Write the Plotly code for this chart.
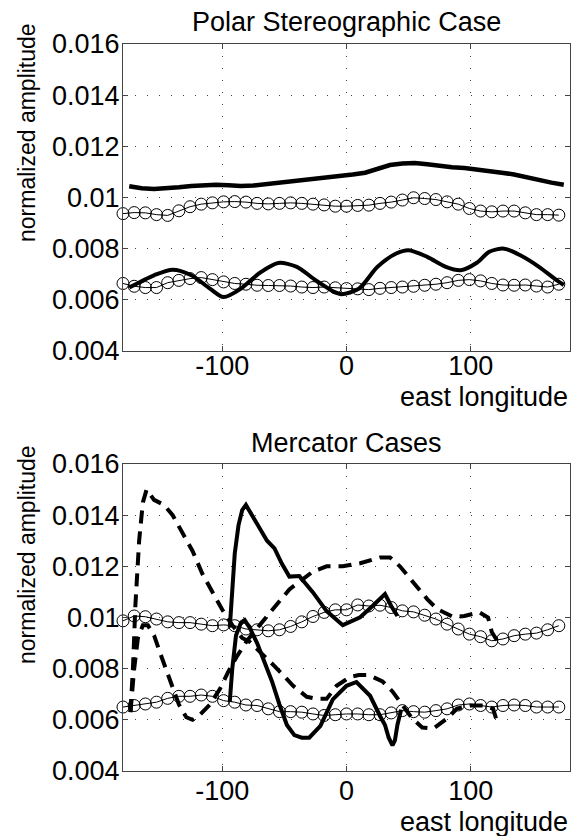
import plotly.graph_objects as go

# ---------------- data ----------------
circ_lon = [-180 + 9 * i for i in range(40)]

# Polar stereographic panel
ps_upper_circ = [0.00937, 0.00941, 0.00940, 0.00933, 0.00930, 0.00948, 0.00964, 0.00974, 0.00979, 0.00983,
                 0.00984, 0.00982, 0.00977, 0.00975, 0.00977, 0.00979, 0.00977, 0.00974, 0.00971, 0.00966,
                 0.00966, 0.00969, 0.00970, 0.00977, 0.00982, 0.00990, 0.00999, 0.00996, 0.00992, 0.00983,
                 0.00974, 0.00957, 0.00947, 0.00944, 0.00947, 0.00947, 0.00940, 0.00933, 0.00933, 0.00931]
ps_lower_circ = [0.00664, 0.00653, 0.00648, 0.00648, 0.00667, 0.00676, 0.00683, 0.00687, 0.00679, 0.00670,
                 0.00664, 0.00661, 0.00657, 0.00656, 0.00656, 0.00654, 0.00650, 0.00648, 0.00650, 0.00647,
                 0.00644, 0.00643, 0.00640, 0.00645, 0.00648, 0.00650, 0.00653, 0.00657, 0.00661, 0.00667,
                 0.00676, 0.00679, 0.00674, 0.00664, 0.00658, 0.00657, 0.00658, 0.00654, 0.00650, 0.00661]

ps_upper_lon = [-175, -165, -155, -145, -135, -125, -115, -105, -95, -85, -75, -65, -55, -45, -35, -25, -15, -5,
                5, 15, 25, 35, 45, 55, 65, 75, 85, 95, 105, 115, 125, 135, 145, 155, 165, 175]
ps_upper_line = [0.01044, 0.01036, 0.01033, 0.01035, 0.01040, 0.01045, 0.01048, 0.01050, 0.01048, 0.01045,
                 0.01047, 0.01052, 0.01060, 0.01066, 0.01070, 0.01075, 0.01080, 0.01085, 0.01090, 0.01097,
                 0.01112, 0.01127, 0.01133, 0.01135, 0.01130, 0.01123, 0.01118, 0.01115, 0.01110, 0.01105,
                 0.01097, 0.01090, 0.01078, 0.01068, 0.01058, 0.01050]

ps_lower_lon = [-175, -155, -140, -125, -110, -99, -85, -70, -55, -40, -25, -10, -4, 10, 25, 40, 50, 65, 80,
                92, 105, 115, 127, 140, 155, 170, 175]
ps_lower_line = [0.00648, 0.00696, 0.00718, 0.00696, 0.00644, 0.00611, 0.00644, 0.00705, 0.00744, 0.00729,
                 0.00677, 0.00631, 0.00622, 0.00644, 0.00729, 0.00781, 0.00794, 0.00768, 0.00729, 0.00716,
                 0.00745, 0.00788, 0.00800, 0.00774, 0.00729, 0.00674, 0.00658]

# Mercator panel
mc_upper_circ = [0.00987, 0.01006, 0.01003, 0.00994, 0.00983, 0.00980, 0.00980, 0.00974, 0.00968, 0.00971,
                 0.00968, 0.00955, 0.00952, 0.00948, 0.00952, 0.00965, 0.00983, 0.01004, 0.01020, 0.01030,
                 0.01030, 0.01049, 0.01045, 0.01048, 0.01039, 0.01026, 0.01022, 0.01009, 0.00994, 0.00974,
                 0.00955, 0.00935, 0.00925, 0.00909, 0.00916, 0.00929, 0.00935, 0.00939, 0.00952, 0.00968]
mc_lower_circ = [0.00650, 0.00656, 0.00662, 0.00669, 0.00684, 0.00692, 0.00692, 0.00697, 0.00692, 0.00675,
                 0.00669, 0.00658, 0.00656, 0.00643, 0.00632, 0.00632, 0.00630, 0.00623, 0.00617, 0.00620,
                 0.00623, 0.00623, 0.00620, 0.00620, 0.00627, 0.00636, 0.00632, 0.00630, 0.00636, 0.00643,
                 0.00658, 0.00662, 0.00656, 0.00650, 0.00656, 0.00658, 0.00656, 0.00650, 0.00650, 0.00650]

mc_dashA_lon = [-174, -172, -170, -167, -164, -161, -155, -147, -140, -132, -124, -116, -108, -100, -92, -84,
                -78, -68, -58, -50, -43, -32, -24, -16, -8, 3, 10, 18, 29, 37, 45, 53, 61, 70, 81, 89, 100,
                110, 118, 121]
mc_dashA = [0.0063, 0.0080, 0.0105, 0.0130, 0.0145, 0.0150, 0.0146, 0.0144, 0.0140, 0.0133, 0.0126, 0.0117,
            0.0110, 0.0103, 0.0097, 0.0092, 0.00905, 0.00860, 0.00810, 0.00770, 0.00733, 0.00690, 0.00682,
            0.00682, 0.00733, 0.00768, 0.00775, 0.00775, 0.00750, 0.00711, 0.00656, 0.00605, 0.00570,
            0.00566, 0.00605, 0.00644, 0.00656, 0.00656, 0.00644, 0.00597]

mc_dashB_lon = [-174, -171, -168, -164, -160, -155, -150, -145, -140, -135, -129, -124, -118, -110, -102, -95,
                -88, -80, -70, -59, -46, -27, -16, -3, 11, 27, 35, 43, 54, 65, 73, 86, 95, 107, 114, 117, 122]
mc_dashB = [0.0063, 0.0080, 0.0092, 0.0097, 0.0097, 0.0093, 0.0086, 0.0079, 0.0072, 0.0066, 0.0061, 0.0060,
            0.0062, 0.0066, 0.0072, 0.0079, 0.0085, 0.0091, 0.0097, 0.01033, 0.0111, 0.01180, 0.01200,
            0.01200, 0.01212, 0.01235, 0.01235, 0.01200, 0.01138, 0.01072, 0.01033, 0.01002, 0.01006,
            0.01020, 0.01000, 0.00943, 0.00904]

mc_solidC_lon = [-94, -92, -90, -87, -84, -81, -76, -70, -64, -58, -52, -46, -38, -27, -16, -3, 11, 21, 31, 36,
                 41]
mc_solidC = [0.0096, 0.0110, 0.0125, 0.0136, 0.0142, 0.0144, 0.0140, 0.0135, 0.0130, 0.0127, 0.0121, 0.0116,
             0.01162, 0.01098, 0.01025, 0.00970, 0.01001, 0.01045, 0.01092, 0.01045, 0.01006]

mc_solidD_lon = [-94, -92, -89, -85, -82, -78, -72, -66, -60, -54, -48, -42, -36, -30, -21, -11, 0, 8, 19, 27,
                 31, 34, 37, 39, 41, 44]
mc_solidD = [0.0067, 0.0080, 0.0093, 0.0098, 0.0099, 0.0096, 0.0090, 0.0083, 0.0075, 0.0066, 0.0058, 0.0054,
             0.0053, 0.0053, 0.00576, 0.0068, 0.00733, 0.00748, 0.00694, 0.00615, 0.0058, 0.0053, 0.0050,
             0.0052, 0.0058, 0.0064]

y_ticks = [0.004, 0.006, 0.008, 0.010, 0.012, 0.014, 0.016]
y_ticktext = ["0.004", "0.006", "0.008", "0.01", "0.012", "0.014", "0.016"]
x_ticks = [-100, 0, 100]
x_ticktext = ["-100", "0", "100"]

titles = ["Polar Stereographic Case", "Mercator Cases"]
x_label = "east longitude"
y_label = "normalized amplitude"

# ---------------- figure ----------------
W, H = 585, 836
FONT = "Liberation Sans, Arial, Helvetica, sans-serif"
fig = go.Figure()

def circ(x, y, ax):
    fig.add_trace(go.Scatter(x=x, y=y, mode="lines+markers", xaxis=ax[0], yaxis=ax[1],
                             line=dict(color="black", width=1),
                             marker=dict(symbol="circle-open", size=12, color="black",
                                         line=dict(width=1, color="black")),
                             cliponaxis=False, showlegend=False))

def thick(x, y, ax, dash="solid", shape="linear", width=4):
    fig.add_trace(go.Scatter(x=x, y=y, mode="lines", xaxis=ax[0], yaxis=ax[1],
                             line=dict(color="black", width=width, dash=dash, shape=shape, smoothing=0.8),
                             showlegend=False))

top = ("x", "y")
bot = ("x2", "y2")
thick(ps_upper_lon, ps_upper_line, top, width=4.5)
thick(ps_lower_lon, ps_lower_line, top, shape="spline")
circ(circ_lon, ps_upper_circ, top)
circ(circ_lon, ps_lower_circ, top)

DASH = "13px,8px"
thick(mc_dashA_lon, mc_dashA, bot, dash=DASH)
thick(mc_dashB_lon, mc_dashB, bot, dash=DASH)
thick(mc_solidC_lon, mc_solidC, bot)
thick(mc_solidD_lon, mc_solidD, bot)
circ(circ_lon, mc_upper_circ, bot)
circ(circ_lon, mc_lower_circ, bot)

def px_x(p):
    return p / W

def px_y(p):
    return 1 - p / H

xdom = [px_x(123), px_x(570)]
ydom_top = [px_y(351), px_y(44)]
ydom_bot = [px_y(771), px_y(464)]

xaxis_common = dict(range=[-180, 180], tickvals=x_ticks, ticktext=x_ticktext, showline=True, mirror="ticks",
                    linecolor="#444", linewidth=1, ticks="inside", ticklen=5, tickcolor="#444",
                    showgrid=True, gridcolor="#444", gridwidth=1, griddash="1px,11px", zeroline=False,
                    tickfont=dict(family=FONT, size=27, color="black"), domain=xdom, fixedrange=True,
                    automargin=False)
yaxis_common = dict(range=[0.004, 0.016], tickvals=y_ticks, ticktext=y_ticktext, showline=True, mirror="ticks",
                    linecolor="#444", linewidth=1, ticks="inside", ticklen=5, tickcolor="#444",
                    showgrid=True, gridcolor="#444", gridwidth=1, griddash="1px,11px", zeroline=False,
                    tickfont=dict(family=FONT, size=27, color="black"), fixedrange=True,
                    automargin=False, ticklabelstandoff=-3)

fig.update_layout(
    template="none",
    width=W, height=H, margin=dict(l=0, r=0, t=0, b=0, pad=0),
    paper_bgcolor="white", plot_bgcolor="white",
    xaxis=dict(**xaxis_common, anchor="y", ticklabelstandoff=-9),
    yaxis=dict(**yaxis_common, domain=ydom_top, anchor="x"),
    xaxis2=dict(**xaxis_common, anchor="y2", ticklabelstandoff=-4),
    yaxis2=dict(**yaxis_common, domain=ydom_bot, anchor="x2"),
)

ann = []
for title, ty in zip(titles, [22, 443]):
    ann.append(dict(text=title, x=px_x(346.5), y=px_y(ty), xref="paper", yref="paper", showarrow=False,
                    xanchor="center", yanchor="middle", font=dict(family=FONT, size=27, color="black")))
for ly in [397, 822]:
    ann.append(dict(text=x_label, x=px_x(570), y=px_y(ly), xref="paper", yref="paper", showarrow=False,
                    xanchor="right", yanchor="middle", font=dict(family=FONT, size=27, color="black")))
for cy in [133, 555]:
    ann.append(dict(text=y_label, x=px_x(27), y=px_y(cy), xref="paper", yref="paper", showarrow=False,
                    textangle=-90, xanchor="center", yanchor="middle",
                    font=dict(family=FONT, size=23, color="black")))
fig.update_layout(annotations=ann)

fig.write_html("out.html")
